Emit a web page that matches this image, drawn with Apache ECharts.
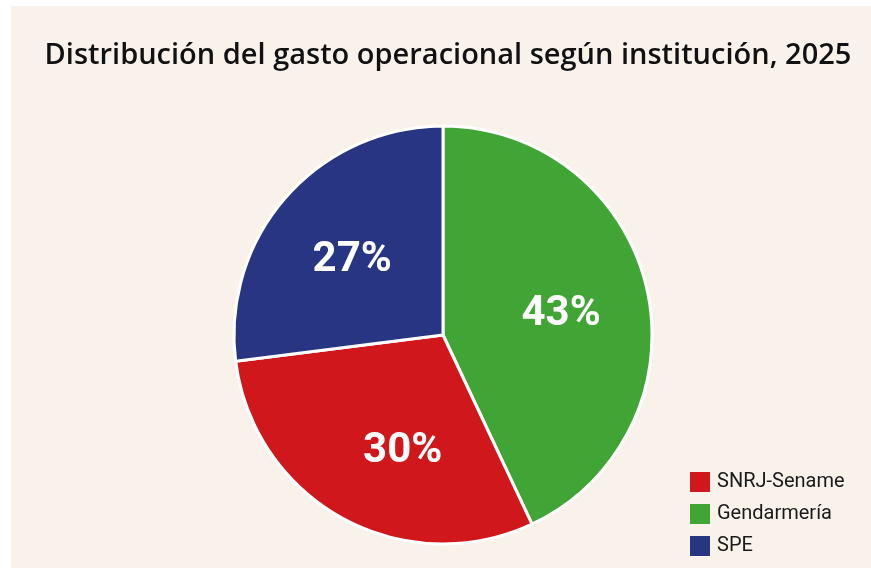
<!DOCTYPE html>
<html>
<head>
<meta charset="utf-8">
<script src="https://cdn.jsdelivr.net/npm/echarts@6/dist/echarts.min.js"></script>
<style>
  html, body { margin: 0; padding: 0; background: #ffffff; }
  #chart { width: 871px; height: 571px; }
</style>
</head>
<body>
<div id="chart"></div>
<script>
// data
var legendNames = ["SNRJ-Sename", "Gendarmería", "SPE"]
var sliceNames = ["Gendarmería", "SNRJ-Sename", "SPE"]   // clockwise from 12 o'clock
var sliceValues = [43, 30, 27]
var sliceColors = ["#41a535", "#d0171b", "#283583"]

// small nudges so the percent labels sit where the original has them
var labelNudge = { "SNRJ-Sename": [18, 10] }

var chart = echarts.init(document.getElementById("chart"))

var pieData = []
var labelData = []
for (var i = 0; i < sliceNames.length; i++) {
    pieData.push({ name: sliceNames[i], value: sliceValues[i], itemStyle: { color: sliceColors[i] } })
    var d = { name: sliceNames[i], value: sliceValues[i] }
    if (labelNudge[sliceNames[i]]) d.label = { offset: labelNudge[sliceNames[i]] }
    labelData.push(d)
}

var option = {
    backgroundColor: "#ffffff",
    animation: false,
    graphic: [{
        type: "rect",
        left: 11, top: 6,
        shape: { width: 860, height: 562 },
        style: { fill: "#f9f2eb" },
        z: -10
    }],
    title: {
        text: "Distribución del gasto operacional según institución, 2025",
        left: 448,
        textAlign: "center",
        top: 41,
        padding: 0,
        textStyle: { fontFamily: "Open Sans", fontWeight: 600, fontSize: 29, color: "#111111" }
    },
    legend: {
        orient: "vertical",
        left: 690,
        top: 472,
        height: 120,
        padding: 0,
        itemWidth: 20,
        itemHeight: 20,
        itemGap: 12,
        icon: "rect",
        itemStyle: { borderWidth: 0 },
        data: legendNames,
        textStyle: { fontFamily: "Roboto", fontSize: 20, color: "#1a1a1a", padding: [0, 0, 0, 2] }
    },
    series: [
        {
            type: "pie",
            center: [443, 335],
            radius: [0, 209],
            startAngle: 90,
            clockwise: true,
            label: { show: false },
            labelLine: { show: false },
            emphasis: { disabled: true },
            itemStyle: { borderColor: "#ffffff", borderWidth: 3 },
            data: pieData
        },
        {
            // label carrier: transparent pie so the inside labels sit further out
            type: "pie",
            center: [443, 335],
            radius: [0, 236],
            startAngle: 90,
            clockwise: true,
            silent: true,
            legendHoverLink: false,
            emphasis: { disabled: true },
            itemStyle: { color: "rgba(0,0,0,0)" },
            label: {
                show: true,
                position: "inside",
                formatter: "{c}%",
                color: "#ffffff",
                fontFamily: "Roboto",
                fontWeight: "bold",
                fontSize: 42,
                offset: [0, 6]
            },
            labelLine: { show: false },
            data: labelData
        }
    ]
}
chart.setOption(option)
</script>
</body>
</html>
